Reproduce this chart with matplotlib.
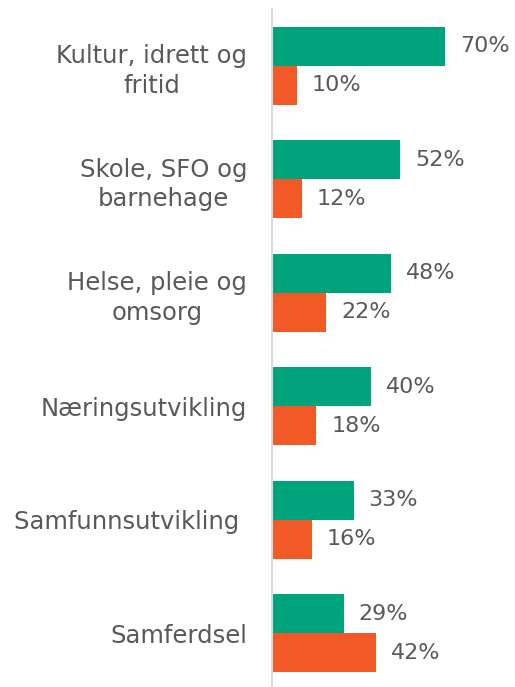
import matplotlib
matplotlib.use("Agg")
import matplotlib.pyplot as plt
import numpy as np

categories = ["Kultur, idrett og\nfritid", "Skole, SFO og\nbarnehage", "Helse, pleie og\nomsorg",
              "Næringsutvikling", "Samfunnsutvikling ", "Samferdsel"]
series_green = [70, 52, 48, 40, 33, 29]
series_orange = [10, 12, 22, 18, 16, 42]

GREEN = "#00A47C"
ORANGE = "#F15A27"
TEXT = "#595959"

plt.rcParams['font.family'] = ['DejaVu Sans']

W, H = 515, 687
fig = plt.figure(figsize=(W / 100, H / 100), dpi=100)
ax = fig.add_axes([272 / W, 1 - 690 / H, 1 - 272 / W, 681 / H])

y = np.arange(len(categories))
h = 0.344
ax.barh(y - h / 2, series_green, height=h, color=GREEN)
ax.barh(y + h / 2, series_orange, height=h, color=ORANGE)

ax.set_xlim(0, 243 / 2.47)
ax.set_ylim(len(categories) - 0.5, -0.5)

vfs = 16
for yi, v in zip(y - h / 2, series_green):
    ax.annotate(f"{v}%", (v, yi), xytext=(15, 0), textcoords="offset pixels",
                va="center", ha="left", fontsize=vfs, color=TEXT)
for yi, v in zip(y + h / 2, series_orange):
    ax.annotate(f"{v}%", (v, yi), xytext=(15, 0), textcoords="offset pixels",
                va="center", ha="left", fontsize=vfs, color=TEXT)

ax.set_yticks(y)
ax.set_yticklabels(categories, fontsize=17.5, color=TEXT, multialignment="center",
                   linespacing=1.3)
ax.tick_params(axis="y", length=0, pad=25 * 72 / 100)
ax.set_xticks([])
for s in ["top", "right", "bottom"]:
    ax.spines[s].set_visible(False)
ax.spines["left"].set_color("#D9D9D9")
ax.spines["left"].set_linewidth(1.5)

fig.savefig("out.png", dpi=100)
